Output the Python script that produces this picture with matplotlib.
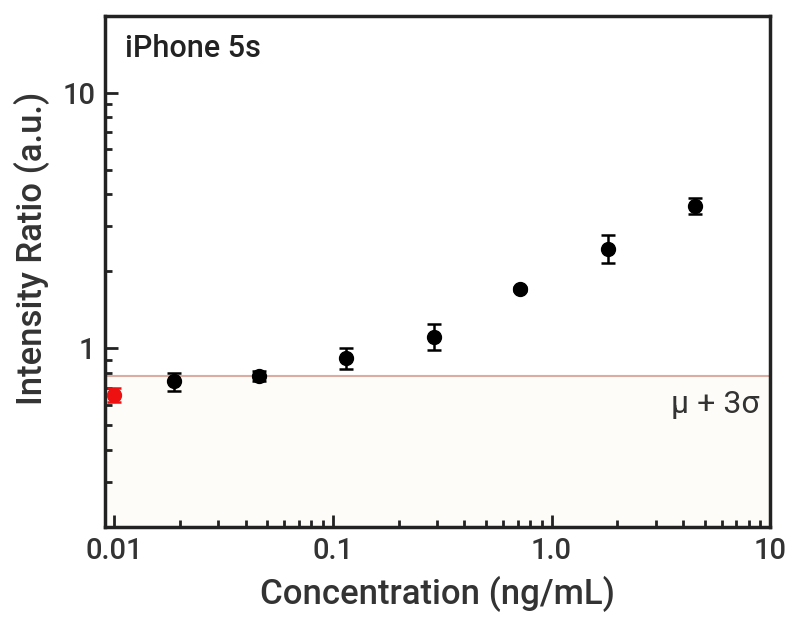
import numpy as np
import matplotlib
matplotlib.use("Agg")
import matplotlib.pyplot as plt
from matplotlib.ticker import LogLocator, FixedLocator, FixedFormatter, NullFormatter

plt.rcParams["font.family"] = ["Roboto", "DejaVu Sans"]

# data
conc = [0.0189, 0.0462, 0.1147, 0.29, 0.72, 1.81, 4.53]
ratio = [0.742, 0.78, 0.912, 1.11, 1.70, 2.45, 3.61]
err_lo = [0.060, 0.034, 0.083, 0.125, 0.03, 0.29, 0.26]
err_hi = [0.055, 0.035, 0.088, 0.13, 0.03, 0.33, 0.27]

blank_conc = [0.01]
blank_ratio = [0.656]
blank_err = [[0.041], [0.041]]

threshold = 0.78

xticks = [0.01, 0.1, 1.0, 10]
xticklabels = ["0.01", "0.1", "1.0", "10"]
yticks = [1, 10]
yticklabels = ["1", "10"]

fig = plt.figure(figsize=(8, 6.31), dpi=100)
ax = fig.add_axes([0.131, 0.165, 0.832, 0.81])
ax.set_xscale("log")
ax.set_yscale("log")
ax.set_xlim(0.0091, 10)
ax.set_ylim(0.2, 20)

ax.axhspan(0.2, threshold, color="#fefcf8", zorder=0)
ax.axhline(threshold, color="#dcaca2", lw=1.5, zorder=1)

ax.errorbar(conc, ratio, yerr=[err_lo, err_hi], fmt="o", color="black",
            ms=10, capsize=5, elinewidth=1.8, capthick=1.8, zorder=3)
ax.errorbar(blank_conc, blank_ratio, yerr=blank_err, fmt="o", color="#ee1111",
            ms=10, capsize=5, elinewidth=1.8, capthick=1.8, zorder=3, clip_on=False)

ax.xaxis.set_major_locator(FixedLocator(xticks))
ax.xaxis.set_major_formatter(FixedFormatter(xticklabels))
ax.xaxis.set_minor_locator(LogLocator(base=10, subs=np.arange(2, 10)))
ax.xaxis.set_minor_formatter(NullFormatter())
ax.yaxis.set_major_locator(FixedLocator(yticks))
ax.yaxis.set_major_formatter(FixedFormatter(yticklabels))
ax.yaxis.set_minor_locator(LogLocator(base=10, subs=np.arange(2, 10)))
ax.yaxis.set_minor_formatter(NullFormatter())

ax.tick_params(which="both", direction="in", width=2, top=False, right=False,
               labelsize=21, color="#222222", labelcolor="#333333")
ax.tick_params(which="major", length=9, pad=7)
ax.tick_params(which="minor", length=5)
for lab in ax.get_xticklabels() + ax.get_yticklabels():
    lab.set_fontweight("medium")

for s in ax.spines.values():
    s.set_linewidth(2.5)
    s.set_color("#222222")

ax.set_xlabel("Concentration (ng/mL)", fontsize=25, fontweight="medium",
              color="#333333", labelpad=8)
ax.set_ylabel("Intensity Ratio (a.u.)", fontsize=25, fontweight="medium",
              color="#333333")
ax.yaxis.set_label_coords(-0.082, 0.545)

ax.text(0.03, 0.965, "iPhone 5s", transform=ax.transAxes, fontsize=22,
        fontweight="medium", color="#222222", va="top", ha="left")
ax.text(0.983, 0.605, "μ + 3σ", fontsize=23, color="#333333",
        transform=ax.get_yaxis_transform(), ha="right", va="center")

fig.savefig("out.png", dpi=100)
